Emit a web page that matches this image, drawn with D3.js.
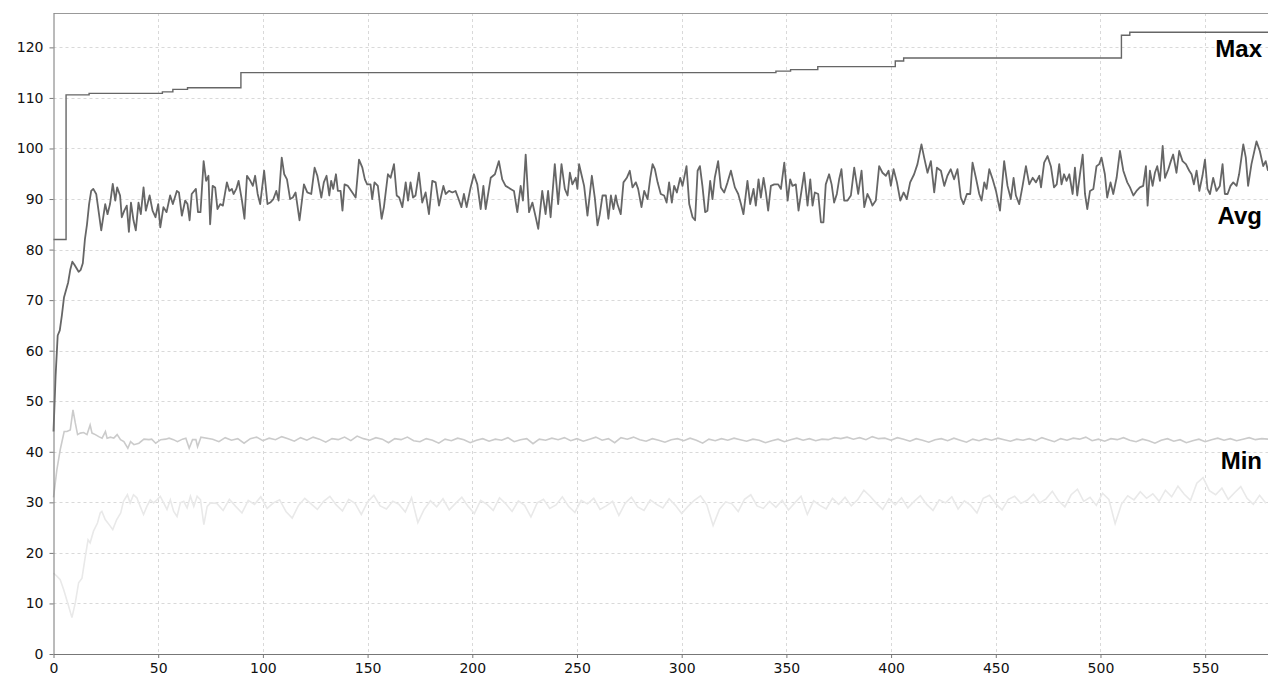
<!DOCTYPE html>
<html><head><meta charset="utf-8">
<script src="https://cdn.jsdelivr.net/npm/d3@7"></script>
<style>body{margin:0;background:#fff}svg{display:block}</style>
</head><body><svg id="c" width="1268" height="677"></svg>
<script>
const xTicks = [0,50,100,150,200,250,300,350,400,450,500,550];
const yTicks = [0,10,20,30,40,50,60,70,80,90,100,110,120];

// Max: step series [generation, value]
const maxData = [[0,82],[6,110.6],[17,110.9],[52,111.2],[57,111.7],[64,112],[89.5,115],[345,115.3],[352,115.6],[365,116.2],[402,117.3],[406,117.9],[510,122.4],[514,123],[580,123]];

// Avg: [generation, value]
const avgData = [[0,44],[1,55],[2,63],[3,64],[4,67],[5,70.5],[6,72],[7,73.5],[8,76],[9,77.6],[10,77],[11,76.3],[12,75.6],[13,76],[14,77.3],[15,82],[16,85],[17,89],[18,91.6],[19,92],[20.4,91],
[22.8,83.8],[24.7,89],[25.8,87],[27,89],[28.3,93],[29.5,89.7],[30.4,92.3],[31.8,90.7],[32.6,86.4],[33.8,87.7],[35,88.7],[36,83.5],[37,89.3],[38.2,85.8],[39.3,83.8],[40.6,89.3],[41.7,87],[43,92.3],[44.1,87.7],[45.9,90.7],[47.3,87.7],[48.7,86.4],[50,89],[51,84.4],[52.5,88.4],[54,87.4],[55.7,90.7],[57,89],[58.9,91.6],[59.9,91.3],[61.3,86.7],[62.9,89.7],[64,89],[65,85.8],[66,91],[68,92],[69,87.4],[70.2,87.4],[71.7,97.5],[72.9,93.6],[74,94.6],[74.8,85],[76,92.6],[77.2,92.3],[78.3,88],[79.6,89],[80.9,88.7],[82.8,93.3],[84,91.6],[85.2,92],[86,91],[87.3,92],[88.4,93.6],[90,89.7],[91.2,86.1],[92.4,94.6],[94,93.6],[95.2,92.6],[96.3,94.6],[97.5,91],[98.7,89],[100.6,95.6],[102.2,89],[103.5,89.3],[105,90],[106.4,91.6],[107.5,89.7],[109,98.2],[110.2,94.9],[111.5,93.9],[113,90],[114.3,90.3],[115.6,91.3],[117.5,85.8],
[119.6,92.9],[121.2,91.3],[123.1,91],[124.7,96.2],[126,94.6],[127.9,90.3],[129.1,93.3],[130.4,94.6],[131.7,90.7],[132.6,93.6],[133.6,92],[134.9,94.9],[135.8,91.6],[137.1,91.6],[138,87.7],[139,92.9],[140.6,92.6],[142.7,91.3],[144.3,90.3],[145.9,97.8],[147.5,96.2],[148.7,93.9],[149.8,92.9],[151.4,92.9],[152.2,90],[153.3,93.3],[154.9,92.6],[156.7,86.1],[157.8,88.4],[159.7,94.9],[161,94.2],[162.6,96.9],[163.9,90.7],[165.1,90.3],[166.6,88.4],[168.2,93.3],[169.3,89.7],[170.5,93.3],[171.7,90.3],[172.9,90.7],[174.5,95.2],[176.1,89.3],[177.7,91.3],[179.3,87],[180.9,93.6],[182.5,93.3],[184.1,88.7],[186.2,92.6],[187.3,91],[188.9,91.6],[190.5,91.3],[192,91.6],[193.2,90.3],[194.8,88.4],[196,91],[197.3,88.4],[199.2,92.3],[200.8,94.9],[202.4,92.9],[204,88],[205.3,92.6],[206.4,88],[208.8,94.2],[210.8,94.9],[212.7,97.5],[214.3,93.9],[215.9,92.6],[218.3,92],[219.9,91.6],[221.5,87.4],[223.1,92.6],[224.2,89.7],[225.5,98.8],[227.1,87.4],[228.7,89.3],[230.3,86.4],[231.5,84.1],[233.4,91.6],[235,87],[236.2,91.6],[237.4,86.4],
[239.4,96.9],[241,89],[242.6,96.9],[244.2,92],[245.5,90.7],[246.6,95.2],[247.8,92.9],[249.4,94.2],[250.2,92],[251,96.9],[252.1,94.9],[253.4,92.6],[255,86.7],[257.1,94.6],[258.5,90.3],[259.8,84.8],[260.9,87],[262.2,90.7],[263.8,90.7],[265,86.1],[266.2,90.7],[267.4,88],[268.5,90.7],[269.3,89],[270.9,87],[272.2,93.3],[273.8,94.2],[275.2,95.6],[276.5,92.3],[278.1,93.3],[279.2,92],[280.8,88.4],[282.1,91.6],[283.7,90],[285,94.2],[286.1,96.9],[287.2,95.9],[288.5,93.3],[290,91],[291.6,90.7],[292.8,89.3],[294,93.3],[295.3,89.3],[296.4,92.6],[297.7,91.3],[299.3,94.2],[300.4,92.6],[302.3,96.5],[303.6,89],[305.2,86.4],[306.4,85.8],[307.6,95.6],[308.7,96.5],[309.9,92.6],[311.2,87.4],[312.3,87.7],[313.6,93.6],[314.7,90],[315.8,94.2],[317.4,97.5],[318.7,92.3],[320.3,91.3],[321.9,93.3],[323.5,95.6],[325.4,92.3],[327,91],[328.3,89],[329.5,87],[331.4,93.6],[332.7,89],[334.3,92],[335.4,88.7],[336.7,93.9],[337.8,90.3],[339.1,94.2],[340.2,91.3],[341.3,87.7],[342.6,92.6],[344.2,92.9],[346.1,92.9],[347.4,92],[349,97.2],[350.6,89.7],[351.8,93.9],[352.9,92.6],[354.5,92.9],[355.8,87.7],
[358.5,95.2],[360.1,88.7],[361.4,93.9],[362.5,88.7],[363.6,91.3],[365.2,91],[366.5,85.4],[367.7,85.4],[368.8,92.9],[370.4,94.9],[371.6,92.9],[372.8,89.3],[374.1,91],[375.2,93.9],[376.3,95.9],[377.6,89.7],[379.2,89.7],[380.8,90.7],[382.4,96.2],[384.3,91],[385.9,95.6],[387.2,88.4],[388.7,91],[389.9,90],[391.1,88.7],[392.7,89.7],[394.3,96.5],[395.9,95.2],[397.5,94.6],[398.8,95.6],[399.9,92.6],[401.2,95.9],[402.8,93.3],[404.4,89.7],[406,91.3],[407.5,90],[409.1,93.3],[411,94.9],[412.6,96.9],[414.5,100.8],[415.8,98.2],[417.4,95.2],[419,97.5],[420.6,91.3],[421.9,96.2],[423.8,95.6],[425.4,92.6],[426.9,94.6],[428.5,95.9],[430.1,93.9],[431.7,95.9],[433.3,90.3],[434.6,89],[436.2,91],[437.8,91],[438.9,97.2],[440.5,94.2],[442.1,91],[443.2,89.7],[444.5,93.3],[445.6,92],[446.9,95.9],[448.5,93.9],[450.1,91.6],[452,87.7],[454,97.5],[455.6,92.6],[457.2,90],[458.5,94.2],[459.6,90.7],[461.2,89],[462.8,92.6],[464.4,96.5],[466,92.9],[467.6,94.2],[469.2,93.3],[470.8,94.6],[471.6,92.3],[473.1,97.2],[474.7,98.5],[476.3,96.5],
[477.8,92.3],[479.1,92.9],[480.3,96.9],[481.4,92.9],[482.6,94.9],[483.8,93.6],[485.1,94.9],[486.7,91],[487.8,96.2],[488.9,90.7],[490.2,94.9],[491.5,98.8],[492.6,91],[493.7,88],[495,91.6],[496.6,92],[498.1,96.5],[499.4,96.9],[500.5,98.2],[502.1,94.9],[503.2,90.3],[504.8,93.3],[506.1,91],[507.7,94.2],[509.3,99.5],[510.9,95.6],[512.8,93.3],[514.1,92.3],[515.7,90.7],[517.2,91.6],[518.8,92.3],[520.4,92.6],[521.7,96.5],[522.5,88.7],[523.6,95.6],[524.9,92.6],[526,95.2],[527.1,96.5],[528.4,93.6],[529.7,100.5],[530.8,94.2],[532.4,95.9],[533.6,97.5],[534.7,98.8],[536.3,95.2],[537.6,99.5],[539.2,97.5],[540.8,96.9],[542.4,95.6],[543.5,94.9],[544.6,92.9],[545.9,95.6],[547.2,91.6],[548.7,94.6],[549.9,97.8],[551.1,92],[552.3,91],[553.8,94.2],[555.4,91.6],[557,92.6],[558.3,96.9],[559.4,91],[560.7,91],[562.1,92.6],[563.4,93.3],[565,92.6],[566.2,94.9],[568.2,100.8],[569.4,98.2],[570.5,92.6],[572.1,96.9],[574.5,101.4],[576.1,99.5],[577.7,96.5],[578.9,97.5],[580,95.6]];

// Min: early part [generation, value]; later part one value every 3 generations from 76
const minEarly = [[0,31],[1.6,36.4],[3.2,40.4],[5.1,44],[6.4,44],[8,44.3],[9.3,48.3],[10.4,45.7],[11.5,43.4],[12.8,43.7],[14.4,43.8],[16,43.4],[17.5,45.3],[18.4,43.7],[20,43.4],[21.6,43],[23.2,42.7],[24.8,44],[25.6,42.7],[27.2,42.9],[28.8,42.7],[30.4,43.4],[32,42.4],[33.6,42],[35.5,40.7],[36.8,42],[38.4,41.4],[40.8,41.7],[43.2,42.5],[45.6,42.4],[46.9,42.5],[48.8,41.7],[51.2,42.4],[53.6,42.5],[55.2,42.7],[57.3,42.4],[59.2,42],[61.6,42.5],[63.2,42.7],[64.8,40.7],[66.4,42.4],[68,42.4],[68.8,41],[70.4,42.9]];
const minLate = [42.5,42.0,42.8,42.3,42.6,41.7,42.6,42.9,42.2,42.7,
42.4,43.0,42.6,42.1,42.8,42.3,42.9,42.5,41.9,42.6,
42.4,42.9,42.2,43.1,42.6,42.3,42.8,42.5,41.8,42.6,
42.4,42.9,42.2,42.0,42.6,42.3,41.7,42.5,42.2,42.7,
42.4,41.8,42.3,42.6,42.1,42.5,42.3,42.8,42.0,42.4,
42.6,41.6,42.5,42.3,42.7,42.4,42.8,42.2,42.6,42.1,
42.5,42.9,42.3,42.6,41.8,42.8,42.5,42.9,42.4,42.1,
42.6,42.3,41.9,42.4,42.6,42.2,42.7,42.3,41.7,42.5,
42.2,42.6,42.3,42.7,42.4,42.1,42.5,42.3,41.8,42.2,
42.5,42.0,42.4,42.7,42.3,42.6,42.2,42.5,42.4,42.8,
42.6,42.9,42.5,42.8,42.4,43.0,42.6,42.7,42.3,42.8,
42.5,42.1,42.6,42.3,41.9,42.4,42.6,42.2,42.7,42.3,
41.9,42.5,42.2,42.6,42.3,42.7,42.4,42.1,42.5,42.3,
42.6,42.2,42.8,42.4,42.0,42.6,42.3,42.7,42.5,42.9,
42.2,42.5,42.1,42.6,42.4,42.8,42.3,42.0,42.5,42.2,
41.7,42.3,42.6,42.1,42.4,41.8,42.2,42.5,42.0,42.4,
42.7,42.3,42.6,42.2,42.5,42.8,42.4,42.6,42.5];

// Lowest line: early part [generation, value]; later part one value every 3 generations from 78
const lowEarly = [[0,16],[1.6,15.4],[3.2,14.7],[4.8,12.8],[7.2,9.5],[8.8,7.2],[10.4,10.1],[12,14.1],[13.6,15],[15.2,19.3],[16.5,22.6],[17.5,22],[19.1,24.3],[21,25.9],[22.3,27.9],[23.1,28.2],[24.7,26.6],[27.1,25.3],[28.3,24.6],[30.2,26.6],[32.1,27.9],[33.4,30.2],[35.3,31.5],[36.6,29.9],[38.2,31.5],[39.8,30.9],[41.4,29.2],[43,27.6],[44.6,29.2],[46.2,30.5],[47.8,29.9],[49.4,30.5],[51,31.2],[52.6,29.9],[54.2,28.6],[55.8,30.5],[57.4,28.2],[59,27.2],[60.6,29.9],[62.2,30.2],[63.8,28.9],[65.4,31.2],[67,29.2],[68.6,31.2],[70.2,30.5],[71.8,25.6],[73.4,29.2],[75,29.9]];
const lowLate = [29.8,28.4,30.6,29.2,27.9,30.4,29.6,31.1,28.8,29.9,
30.5,28.2,26.9,29.4,30.8,29.7,28.6,30.2,31.2,29.5,
28.3,30.6,29.8,27.6,30.1,31.4,29.3,28.7,30.2,29.6,
28.1,30.9,26.0,28.6,30.3,29.1,30.7,28.5,29.8,31.0,
29.2,27.8,30.4,29.6,28.4,30.9,29.7,28.2,30.3,29.4,
27.1,29.9,30.6,28.8,29.5,31.1,29.2,28.0,30.4,29.7,
30.8,28.6,29.3,30.2,27.4,29.8,31.0,29.1,28.4,30.5,
29.6,28.9,30.7,29.4,27.8,29.2,30.4,31.3,29.5,25.4,
28.6,30.1,29.7,28.2,30.6,31.5,29.3,28.8,30.2,29.0,
30.4,28.5,29.9,31.2,27.6,30.3,29.4,28.7,30.8,29.6,
31.0,29.3,30.5,32.4,31.2,29.8,28.6,30.7,29.5,30.9,
28.9,30.2,31.3,29.6,28.4,30.5,29.9,31.1,28.7,30.3,
29.4,27.9,30.8,31.4,29.7,28.5,30.6,31.2,29.8,30.4,
31.6,29.9,30.7,32.2,30.3,29.1,31.5,32.6,30.2,31.0,
29.4,31.8,30.6,25.8,29.6,31.3,30.5,32.1,30.8,31.7,
30.2,32.4,31.1,33.2,31.6,30.4,33.8,34.9,32.3,31.5,
32.8,30.6,31.9,33.1,30.8,29.6,31.4,29.8];

const labels = [["Max",118.1],["Avg",85.1],["Min",36.6]];

const svg = d3.select("#c");
const L = 53.5, R = 1268, T = 13, B = 654;
const x = d3.scaleLinear().domain([0,580]).range([L,R]);
const y = d3.scaleLinear().domain([0,126.8]).range([B,T]);

const minData = minEarly.concat(minLate.map((v,i)=>[76+3*i,v]));
const lowData = lowEarly.concat(lowLate.map((v,i)=>[78+3*i,v]));

const g = svg.append("g");
g.selectAll(".vg").data(xTicks.filter(d=>d>0)).join("line")
  .attr("x1",d=>Math.round(x(d))+0.5).attr("x2",d=>Math.round(x(d))+0.5)
  .attr("y1",T).attr("y2",B)
  .attr("stroke","#d9d9d9").attr("stroke-dasharray","3,3");
g.selectAll(".hg").data(yTicks.filter(d=>d>0)).join("line")
  .attr("y1",d=>Math.round(y(d))+0.5).attr("y2",d=>Math.round(y(d))+0.5)
  .attr("x1",L).attr("x2",R)
  .attr("stroke","#d9d9d9").attr("stroke-dasharray","3,3");
svg.append("line").attr("x1",L).attr("x2",R).attr("y1",T+0.5).attr("y2",T+0.5).attr("stroke","#999");

const line = d3.line().x(d=>x(d[0])).y(d=>y(d[1]));
const stepLine = d3.line().x(d=>x(d[0])).y(d=>y(d[1])).curve(d3.curveStepAfter);

svg.append("path").datum(lowData).attr("d",line).attr("fill","none").attr("stroke","#e9e9e9").attr("stroke-width",1.6);
svg.append("path").datum(minData).attr("d",line).attr("fill","none").attr("stroke","#cbcbcb").attr("stroke-width",1.6);
svg.append("path").datum(avgData).attr("d",line).attr("fill","none").attr("stroke","#666").attr("stroke-width",1.8).attr("stroke-linejoin","round");
svg.append("path").datum(maxData).attr("d",stepLine).attr("fill","none").attr("stroke","#666").attr("stroke-width",1.4);

const font = "'DejaVu Sans', sans-serif";
const ax = svg.append("g").attr("transform",`translate(${L},0)`)
  .call(d3.axisLeft(y).tickValues(yTicks).tickSize(4).tickSizeOuter(0).tickPadding(6));
const bx = svg.append("g").attr("transform",`translate(0,${B})`)
  .call(d3.axisBottom(x).tickValues(xTicks).tickSize(4).tickSizeOuter(0).tickPadding(5));
[ax,bx].forEach(a=>{
  a.select(".domain").attr("stroke","#777");
  a.selectAll(".tick line").attr("stroke","#777");
  a.selectAll("text").attr("fill","#111").style("font-family",font).style("font-size","14px");
});

svg.selectAll(".lab").data(labels).join("text")
  .attr("x",1262).attr("y",d=>y(d[1]))
  .attr("text-anchor","end")
  .style("font-family","'Liberation Sans', Arial, sans-serif")
  .style("font-weight","bold").style("font-size","24px")
  .attr("fill","#000").text(d=>d[0]);
</script></body></html>
